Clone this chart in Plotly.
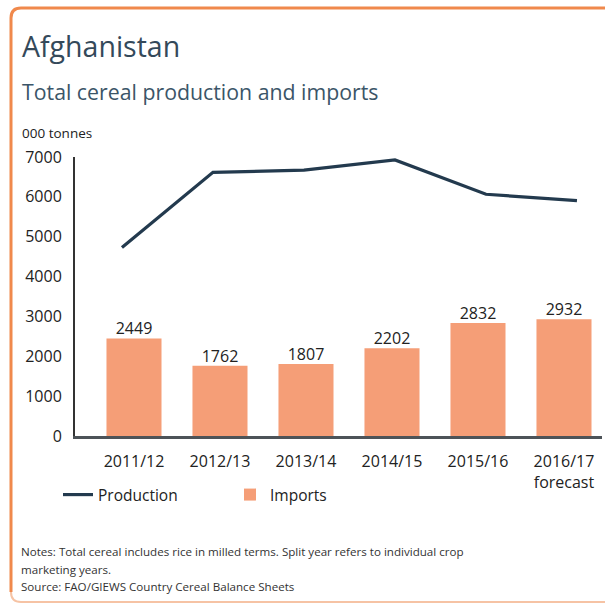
import plotly.graph_objects as go

W = H = 605

categories = ["2011/12", "2012/13", "2013/14", "2014/15", "2015/16", "2016/17"]
tick_labels = ["2011/12", "2012/13", "2013/14", "2014/15", "2015/16", "2016/17<br>forecast"]
production = [4730, 6615, 6670, 6925, 6065, 5905]
imports = [2449, 1762, 1807, 2202, 2832, 2932]

FONT = "Open Sans"
BAR_COLOR = "#F59E77"
LINE_COLOR = "#233A4E"
TITLE_COLOR = "#34495A"


def px(x):
    return x / W


def py(y):
    return 1 - y / H


fig = go.Figure()
fig.add_trace(go.Bar(
    x=categories, y=imports, name="Imports",
    marker=dict(color=BAR_COLOR, line=dict(width=0)),
    width=0.64, xaxis="x", yaxis="y",
))
fig.add_trace(go.Scatter(
    x=categories, y=imports, mode="text", showlegend=False, hoverinfo="skip",
    text=[str(v) for v in imports], textposition="top center",
    textfont=dict(family=FONT, size=16, color="#222222"),
    cliponaxis=False, xaxis="x", yaxis="y",
))
fig.add_trace(go.Scatter(
    x=categories, y=production, name="Production", mode="lines",
    line=dict(color=LINE_COLOR, width=3.2),
    xaxis="x2", yaxis="y",
))

# frame (orange rounded border)
r = 10
x0, y0, x1, y1 = 11, 8, 612, 602
path_strong = (f"M {px(x0)} {py(y1 - r)} L {px(x0)} {py(y0 + r)} "
               f"Q {px(x0)} {py(y0)} {px(x0 + r)} {py(y0)} L {px(x1)} {py(y0)}")
path_faint = (f"M {px(x0)} {py(y1 - r)} Q {px(x0)} {py(y1)} {px(x0 + r)} {py(y1)} "
              f"L {px(x1)} {py(y1)}")
shapes = [
    dict(type="path", xref="paper", yref="paper", path=path_faint,
         line=dict(color="#F6C3A4", width=2)),
    dict(type="path", xref="paper", yref="paper", path=path_strong,
         line=dict(color="#F0894C", width=3)),
]


def note(text, x, y, size, color, yanchor="top"):
    return dict(text=text, x=px(x), y=py(y), xref="paper", yref="paper",
                xanchor="left", yanchor=yanchor, showarrow=False, align="left",
                font=dict(family=FONT, size=size, color=color))


annotations = [
    note("Afghanistan", 20, 25, 28.5, TITLE_COLOR),
    note("Total cereal production and imports", 20, 75, 21.3, "#3B5568"),
    note("000 tonnes", 20, 122, 13.5, "#222222"),
    note("Notes: Total cereal includes rice in milled terms. Split year refers to individual crop",
         19, 551, 11.6, "#333333", "middle"),
    note("marketing years.", 19, 569, 11.6, "#333333", "middle"),
    note("Source: FAO/GIEWS Country Cereal Balance Sheets", 19, 586, 11.6, "#333333", "middle"),
]

fig.update_layout(
    template="none",
    width=W, height=H, autosize=False,
    margin=dict(l=0, r=0, t=0, b=0, pad=0),
    paper_bgcolor="white", plot_bgcolor="white",
    font=dict(family=FONT, color="#222222"),
    showlegend=True,
    legend=dict(orientation="h", x=px(58), y=py(478), xanchor="left", yanchor="top",
                font=dict(family=FONT, size=15.5, color="#222222"),
                traceorder="reversed", entrywidth=127, entrywidthmode="pixels",
                bgcolor="rgba(0,0,0,0)"),
    xaxis=dict(domain=[px(75), px(602)], type="category", categoryorder="array",
               categoryarray=categories, range=[-0.686, 5.442],
               tickvals=categories, ticktext=tick_labels,
               showline=True, linecolor="#4D5358", linewidth=2.5,
               showgrid=False, ticks="", zeroline=False, automargin=False,
               tickfont=dict(family=FONT, size=16, color="#222222"),
               ticklabelstandoff=9),
    xaxis2=dict(domain=[px(75), px(602)], type="category", categoryorder="array",
                categoryarray=categories, range=[-0.516, 5.275],
                overlaying="x", visible=False, automargin=False),
    yaxis=dict(domain=[py(436), py(157)], range=[0, 7000], dtick=1000,
               showline=True, linecolor="#333333", linewidth=2,
               showgrid=False, ticks="", zeroline=False, automargin=False,
               tickfont=dict(family=FONT, size=16, color="#222222"),
               ticklabelstandoff=8),
    shapes=shapes,
    annotations=annotations,
)

fig.write_html("out.html", config={"displayModeBar": False},
               post_script="document.body.style.margin='0';")
